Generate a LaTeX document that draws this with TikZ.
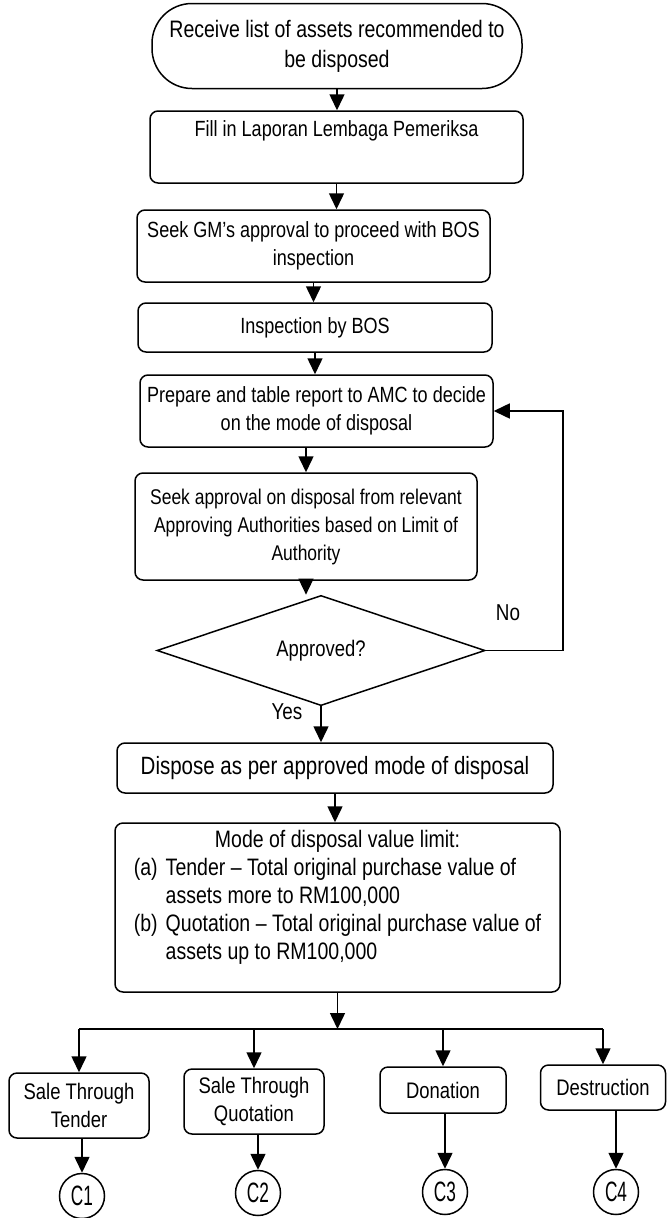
\documentclass[tikz,border=0pt]{standalone}
\usepackage{fontspec}
\usepackage{graphicx}
% narrow sans lettering
\setmainfont[FakeStretch=0.82]{Liberation Sans}
\usetikzlibrary{arrows.meta,shapes.geometric}

% font size with the fixed 28pt line pitch used throughout the chart
\newcommand\fsz[1]{\fontsize{#1}{28}\selectfont}
% extra-narrow lettering for the off-page connectors
\newcommand\cnarrow[1]{\scalebox{0.75}[1]{#1}}

\begin{document}
\begin{tikzpicture}[x=1pt,y=-1pt,
  every node/.style={font=\fsz{22}},
  proc/.style={draw, line width=1.5pt, rounded corners=8pt, align=center, inner sep=0pt},
  term/.style={proc, rounded corners=40pt},
  decision/.style={draw, line width=1.5pt, diamond, inner sep=0pt, align=center},
  conn/.style={draw, line width=1.5pt, circle, inner sep=0pt, minimum size=45pt,
               font=\fontsize{28}{30}\selectfont},
  arr/.style={line width=1.5pt, -{Triangle[width=15pt,length=16pt]}},
  ln/.style={line width=1.5pt},
]
\useasboundingbox (0,0) rectangle (667,1218);

% main column of steps
\node[term, minimum width=370pt, minimum height=85pt, font=\fontsize{23.8}{30}\selectfont]
  (start) at (337,46) {Receive list of assets recommended to\\be disposed};
\node[proc, minimum width=373pt, minimum height=72pt] (fill) at (336.5,147)
  {Fill in Laporan Lembaga Pemeriksa\\\strut};
\node[proc, minimum width=353pt, minimum height=72pt] (gm) at (313.5,246)
  {Seek GM's approval to proceed with BOS\\inspection};
\node[proc, minimum width=354pt, minimum height=49pt] (insp) at (315,327.5)
  {Inspection by BOS};
\node[proc, minimum width=353pt, minimum height=72pt] (amc) at (316.5,411)
  {Prepare and table report to AMC to decide\\on the mode of disposal};
\node[proc, minimum width=342pt, minimum height=107pt, font=\fsz{21.3}] (seek) at (306,526.5)
  {Seek approval on disposal from relevant\\Approving Authorities based on Limit of\\Authority};
\node[decision, minimum width=328pt, minimum height=84pt, font=\fsz{22.5}] (dia) at (321,650.5)
  {Approved?};
\node[proc, minimum width=436pt, minimum height=50pt, font=\fsz{25}] (disp) at (335,768)
  {Dispose as per approved mode of disposal};
\node[proc, minimum width=445pt, minimum height=169pt, font=\fsz{23.8}] (mode) at (337.5,907.5) {%
  \begin{tabular}{@{}l@{\hspace{8pt}}l@{}}
  \multicolumn{2}{c}{Mode of disposal value limit:}\\
  (a) & Tender – Total original purchase value of\\
      & assets more to RM100,000\\
  (b) & Quotation – Total original purchase value of\\
      & assets up to RM100,000\\[-8pt]
      &
  \end{tabular}};

% disposal modes
\node[proc, minimum width=140pt, minimum height=65pt, font=\fsz{22.5}] (b1) at (79,1105.5)
  {Sale Through\\Tender};
\node[proc, minimum width=140pt, minimum height=65pt, font=\fsz{22.5}] (b2) at (254,1101.5)
  {Sale Through\\Quotation};
\node[proc, minimum width=126pt, minimum height=46pt, font=\fsz{22.5}] (b3) at (443,1090)
  {Donation};
\node[proc, minimum width=125pt, minimum height=45pt, font=\fsz{22.5}] (b4) at (603,1087.5)
  {Destruction};

% off-page connectors
\node[conn] (c1) at (82,1196) {\cnarrow{C1}};
\node[conn] (c2) at (258,1193) {\cnarrow{C2}};
\node[conn] (c3) at (445,1192) {\cnarrow{C3}};
\node[conn] (c4) at (616,1192) {\cnarrow{C4}};

% branch labels
\node[font=\fsz{23}] (no) at (508,613) {No};
\node[font=\fsz{23}] (yes) at (287,712) {Yes};

\coordinate (fb) at (563,411);
\coordinate (split) at (337.5,1029);

% flow
\draw[arr] (start.south) -- (start.south |- fill.north);
\draw[arr] (fill.south) -- (fill.south |- gm.north);
\draw[arr] (gm.south) -- (gm.south |- insp.north);
\draw[arr] (insp.south) -- (insp.south |- amc.north);
\draw[arr] (seek.north |- amc.south) -- (seek.north);
\draw[arr] (seek.south) -- (seek.south |- dia.north);
\draw[arr] (dia.east) -| (fb) -- (amc.east);
\draw[arr] (dia.south) -- (dia.south |- disp.north);
\draw[arr] (disp.south) -- (disp.south |- mode.north);
\draw[arr] (mode.south) -- (split);
\draw[ln] (b1.north |- split) -- (b4.north |- split);
\foreach \b in {b1,b2,b3,b4}
  \draw[arr] (\b.north |- split) -- (\b.north);
\draw[arr] (c1 |- b1.south) -- (c1.north);
\draw[arr] (c2 |- b2.south) -- (c2.north);
\draw[arr] (c3 |- b3.south) -- (c3.north);
\draw[arr] (c4 |- b4.south) -- (c4.north);
\end{tikzpicture}
\end{document}
